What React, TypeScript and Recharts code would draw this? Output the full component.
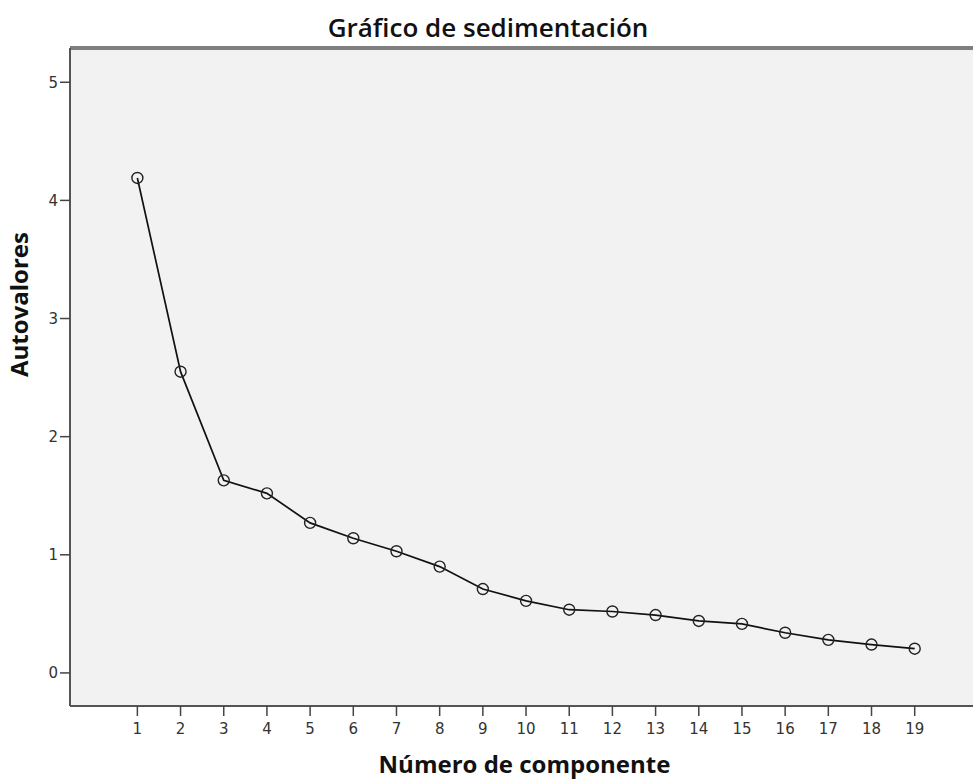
import { CartesianGrid, Line, LineChart, ReferenceLine, XAxis, YAxis } from "recharts";

const componentes = [1, 2, 3, 4, 5, 6, 7, 8, 9, 10, 11, 12, 13, 14, 15, 16, 17, 18, 19];
const autovalores = [
  4.19, 2.55, 1.63, 1.52, 1.27, 1.14, 1.03, 0.9, 0.71, 0.61, 0.535, 0.52, 0.49, 0.44, 0.415, 0.34,
  0.28, 0.24, 0.205,
];
const yTicks = [0, 1, 2, 3, 4, 5];

const data = componentes.map((c, i) => ({ componente: c, valor: autovalores[i] }));

const tickStyle = { fontSize: 15, fill: "#333", fontFamily: "DejaVu Sans" };
const axisLabelStyle = { fontSize: 24, fontWeight: 700, fill: "#111", fontFamily: "Open Sans" };

export default function App() {
  return (
    <div style={{ position: "absolute", left: 0, top: 0, width: 973, height: 780, background: "#fff" }}>
      <div
        style={{
          position: "absolute",
          top: 14,
          left: 0,
          width: 976,
          textAlign: "center",
          fontFamily: "Open Sans",
          fontWeight: 600,
          fontSize: 26,
          color: "#111",
          lineHeight: "26px",
          whiteSpace: "nowrap",
        }}
      >
        Gráfico de sedimentación
      </div>
      <LineChart width={973} height={780} data={data} margin={{ top: 48, right: 0, bottom: 0, left: 0 }}>
        <CartesianGrid fill="#f2f2f2" horizontal={false} vertical={false} />
        <ReferenceLine y={5.29} stroke="#7f7f7f" strokeWidth={4} />
        <XAxis
          dataKey="componente"
          type="number"
          domain={[-0.56, 20.35]}
          ticks={componentes}
          interval={0}
          height={74}
          tick={tickStyle}
          tickSize={10}
          tickMargin={7}
          tickLine={{ stroke: "#444", strokeWidth: 1.5 }}
          axisLine={{ stroke: "#555", strokeWidth: 2 }}
          label={{ value: "Número de componente", position: "insideBottom", offset: 7, dx: 3, style: axisLabelStyle }}
        />
        <YAxis
          type="number"
          domain={[-0.28, 5.29]}
          ticks={yTicks}
          width={70}
          tick={tickStyle}
          tickSize={10}
          tickMargin={2}
          tickLine={{ stroke: "#444", strokeWidth: 1.5 }}
          axisLine={{ stroke: "#555", strokeWidth: 2 }}
          label={{ value: "Autovalores", angle: -90, position: "insideLeft", offset: 19, style: axisLabelStyle }}
        />
        <Line
          dataKey="valor"
          type="linear"
          stroke="#111"
          strokeWidth={1.7}
          dot={{ r: 5.5, fill: "none", stroke: "#222", strokeWidth: 1.4 }}
          activeDot={false}
          isAnimationActive={false}
        />
      </LineChart>
    </div>
  );
}
